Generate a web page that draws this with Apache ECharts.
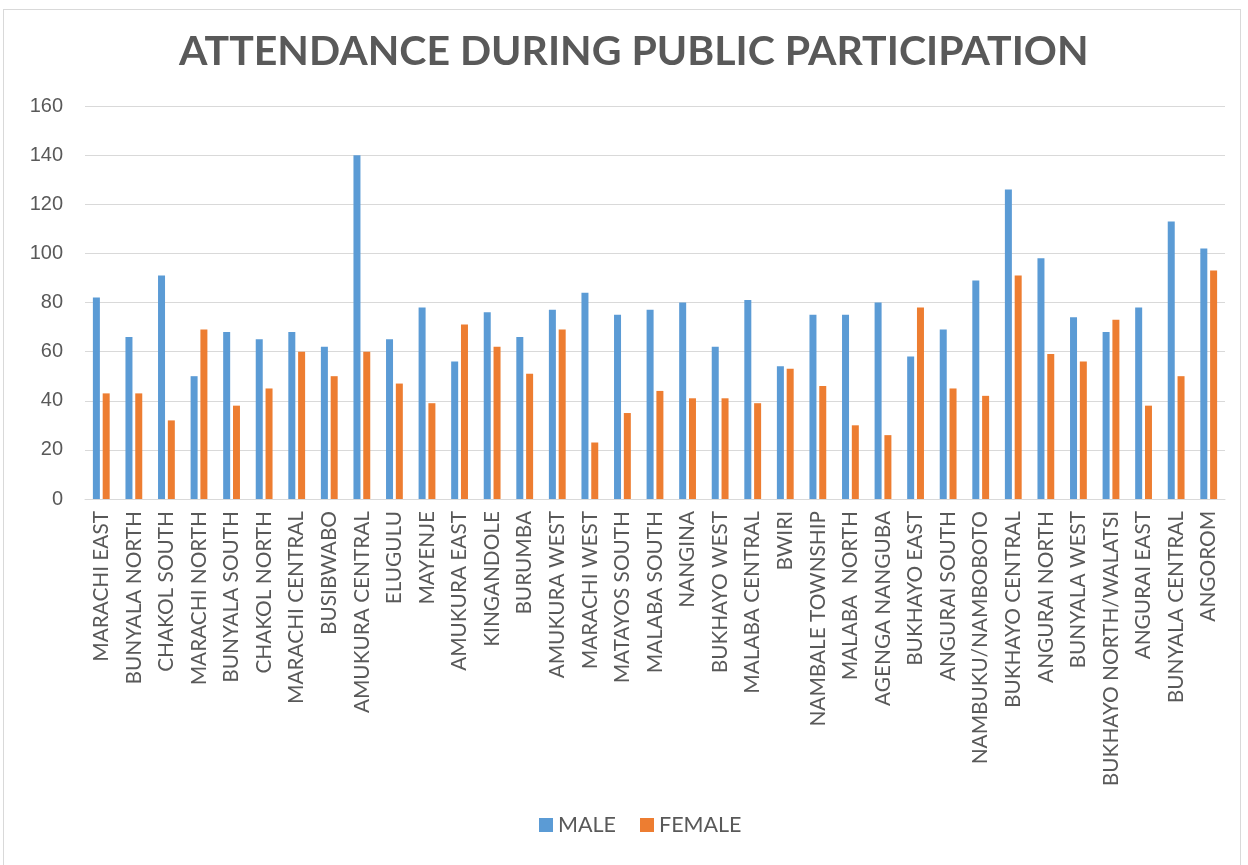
<!DOCTYPE html>
<html><head><meta charset="utf-8">
<script src="https://cdn.jsdelivr.net/npm/echarts@6/dist/echarts.min.js"></script>
<style>
html,body{margin:0;padding:0;background:#fff;}
#frame{position:absolute;left:3px;top:9px;width:1238px;height:870px;border:1px solid #d9d9d9;box-sizing:border-box;}
#c{position:absolute;left:0;top:0;width:1248px;height:865px;}
</style></head>
<body><div id="frame"></div><div id="c"></div>
<script>
const categories = ["MARACHI EAST","BUNYALA NORTH","CHAKOL SOUTH","MARACHI NORTH","BUNYALA SOUTH","CHAKOL NORTH","MARACHI CENTRAL","BUSIBWABO","AMUKURA CENTRAL","ELUGULU","MAYENJE","AMUKURA EAST","KINGANDOLE","BURUMBA","AMUKURA WEST","MARACHI WEST","MATAYOS SOUTH","MALABA SOUTH","NANGINA","BUKHAYO WEST","MALABA CENTRAL","BWIRI","NAMBALE TOWNSHIP","MALABA  NORTH","AGENGA NANGUBA","BUKHAYO EAST","ANGURAI SOUTH","NAMBUKU/NAMBOBOTO","BUKHAYO CENTRAL","ANGURAI NORTH","BUNYALA WEST","BUKHAYO NORTH/WALATSI","ANGURAI EAST","BUNYALA CENTRAL","ANGOROM"];
const male = [82,66,91,50,68,65,68,62,140,65,78,56,76,66,77,84,75,77,80,62,81,54,75,75,80,58,69,89,126,98,74,68,78,113,102];
const female = [43,43,32,69,38,45,60,50,60,47,39,71,62,51,69,23,35,44,41,41,39,53,46,30,26,78,45,42,91,59,56,73,38,50,93];
const yTicks = [0,20,40,60,80,100,120,140,160];

const chart = echarts.init(document.getElementById('c'));
const font = "Lato, 'Open Sans', sans-serif";
chart.setOption({
  animation:false,
  title:{text:'ATTENDANCE DURING PUBLIC PARTICIPATION',left:174,top:26,
    textStyle:{fontFamily:font,fontSize:41,fontWeight:'bold',color:'#595959'}},
  legend:{bottom:24,left:534,itemWidth:14,itemHeight:14,itemGap:24,
    textStyle:{fontFamily:font,fontSize:21.5,color:'#595959'},
    data:[{name:'MALE',icon:'rect'},{name:'FEMALE',icon:'rect'}]},
  grid:{left:85,right:23,top:106,bottom:366,containLabel:false},
  xAxis:{type:'category',data:categories,
    axisLine:{lineStyle:{color:'#d9d9d9',width:1}},axisTick:{show:false},
    axisLabel:{rotate:90,interval:0,fontFamily:font,fontSize:20.8,color:'#595959',margin:12}},
  yAxis:{type:'value',min:yTicks[0],max:yTicks[yTicks.length-1],interval:20,
    axisLine:{show:false},axisTick:{show:false},
    splitLine:{lineStyle:{color:'#d9d9d9',width:1.2}},
    axisLabel:{fontFamily:"'Liberation Sans', Arial, sans-serif",fontSize:20,color:'#595959',margin:22}},
  series:[
    {name:'MALE',type:'bar',data:male,barWidth:7,barGap:'40%',itemStyle:{color:'#5b9bd5'}},
    {name:'FEMALE',type:'bar',data:female,barWidth:7,itemStyle:{color:'#ed7d31'}}
  ]
});
</script></body></html>
